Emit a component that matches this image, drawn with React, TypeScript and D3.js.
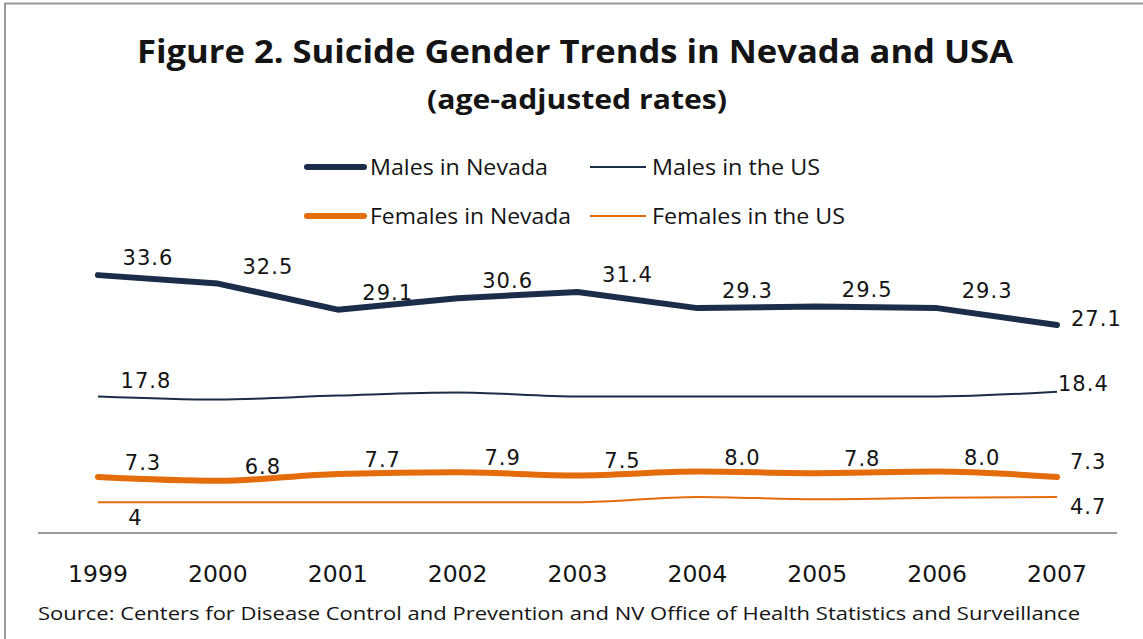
import React from "react";
import * as d3 from "d3";

const years = ["1999", "2000", "2001", "2002", "2003", "2004", "2005", "2006", "2007"];
const malesNevada = [33.6, 32.5, 29.1, 30.6, 31.4, 29.3, 29.5, 29.3, 27.1];
const malesUS = [17.8, 17.4, 17.9, 18.3, 17.8, 17.8, 17.8, 17.8, 18.4];
const femalesNevada = [7.3, 6.8, 7.7, 7.9, 7.5, 8.0, 7.8, 8.0, 7.3];
const femalesUS = [4.0, 4.0, 4.0, 4.0, 4.0, 4.7, 4.4, 4.6, 4.7];

const NAVY = "#1c2d4a";
const ORANGE = "#E46C0A";
const TEXT = "#141414";

const x = d3.scalePoint<string>().domain(years).range([98, 1057]);
const y = d3.scaleLinear().domain([0, 40]).range([533, 226]);

const makeLine = (curve: d3.CurveFactory) =>
  d3
    .line<number>()
    .x((_, i) => x(years[i]) as number)
    .y((v) => y(v))
    .curve(curve);

const straight = makeLine(d3.curveLinear);
const smooth = makeLine(d3.curveMonotoneX);

const fmt1 = d3.format(".1f");
const fmtPlain = d3.format("");

export default function App() {
  const labelFont = "'DejaVu Sans', Verdana, sans-serif";
  const calibriLike = "'Open Sans', 'Noto Sans', sans-serif";
  const last = years.length - 1;
  const lx = (i: number) => x(years[i]) as number;

  return (
    <svg
      width={1143}
      height={639}
      style={{ position: "absolute", left: 0, top: 0, background: "#fff" }}
    >
      <rect x={0} y={0} width={1143} height={639} fill="#fff" />
      <rect x={5} y={3.5} width={1300} height={800} fill="none" stroke="#9a9a9a" strokeWidth={2} />

      {/* Title */}
      <text
        x={575}
        y={63}
        textAnchor="middle"
        fontFamily={calibriLike}
        fontWeight="bold"
        fontSize={33}
        fill={TEXT}
        textLength={876}
        lengthAdjust="spacingAndGlyphs"
      >
        Figure 2. Suicide Gender Trends in Nevada and USA
      </text>
      <text
        x={577}
        y={109}
        textAnchor="middle"
        fontFamily={calibriLike}
        fontWeight="bold"
        fontSize={26}
        fill={TEXT}
        textLength={300}
        lengthAdjust="spacingAndGlyphs"
      >
        (age-adjusted rates)
      </text>

      {/* Legend */}
      <line x1={307} x2={364} y1={167} y2={167} stroke={NAVY} strokeWidth={6} strokeLinecap="round" />
      <text x={370} y={175} fontFamily={calibriLike} fontSize={21} fill={TEXT} textLength={178} lengthAdjust="spacingAndGlyphs">
        Males in Nevada
      </text>
      <line x1={590} x2={646} y1={167} y2={167} stroke={NAVY} strokeWidth={1.8} />
      <text x={652} y={175} fontFamily={calibriLike} fontSize={21} fill={TEXT} textLength={168} lengthAdjust="spacingAndGlyphs">
        Males in the US
      </text>
      <line x1={307} x2={364} y1={216} y2={216} stroke={ORANGE} strokeWidth={6} strokeLinecap="round" />
      <text x={370} y={224} fontFamily={calibriLike} fontSize={21} fill={TEXT} textLength={201} lengthAdjust="spacingAndGlyphs">
        Females in Nevada
      </text>
      <line x1={590} x2={646} y1={216} y2={216} stroke={ORANGE} strokeWidth={1.8} />
      <text x={652} y={224} fontFamily={calibriLike} fontSize={21} fill={TEXT} textLength={193} lengthAdjust="spacingAndGlyphs">
        Females in the US
      </text>

      {/* Axis line */}
      <line x1={38} x2={1117} y1={y(0)} y2={y(0)} stroke="#9a9a9a" strokeWidth={2} />

      {/* Lines */}
      <path d={smooth(femalesUS) || ""} fill="none" stroke={ORANGE} strokeWidth={2} />
      <path d={smooth(femalesNevada) || ""} fill="none" stroke={ORANGE} strokeWidth={6} strokeLinecap="round" />
      <path d={smooth(malesUS) || ""} fill="none" stroke={NAVY} strokeWidth={2} />
      <path d={straight(malesNevada) || ""} fill="none" stroke={NAVY} strokeWidth={6} strokeLinecap="round" strokeLinejoin="round" />

      {/* Data labels: Males Nevada */}
      {malesNevada.map((v, i) =>
        i < last ? (
          <text key={"mn" + i} x={lx(i) + 50} y={y(v) - 10} textAnchor="middle" fontFamily={labelFont} fontSize={21} letterSpacing={1} fill={TEXT}>
            {fmt1(v)}
          </text>
        ) : (
          <text key={"mn" + i} x={lx(i) + 14} y={y(v) + 1} fontFamily={labelFont} fontSize={21} letterSpacing={1} fill={TEXT}>
            {fmt1(v)}
          </text>
        )
      )}

      {/* Males US end labels */}
      <text x={lx(0) + 48} y={y(malesUS[0]) - 8} textAnchor="middle" fontFamily={labelFont} fontSize={21} letterSpacing={1} fill={TEXT}>
        {fmt1(malesUS[0])}
      </text>
      <text x={lx(last) + 1} y={y(malesUS[last]) - 1} fontFamily={labelFont} fontSize={21} letterSpacing={1} fill={TEXT}>
        {fmt1(malesUS[last])}
      </text>

      {/* Females Nevada labels */}
      {femalesNevada.map((v, i) =>
        i < last ? (
          <text key={"fn" + i} x={lx(i) + 45} y={y(v) - 7} textAnchor="middle" fontFamily={labelFont} fontSize={21} letterSpacing={1} fill={TEXT}>
            {fmt1(v)}
          </text>
        ) : (
          <text key={"fn" + i} x={lx(i) + 13} y={y(v) - 8} fontFamily={labelFont} fontSize={21} letterSpacing={1} fill={TEXT}>
            {fmt1(v)}
          </text>
        )
      )}

      {/* Females US end labels */}
      <text x={lx(0) + 37} y={y(femalesUS[0]) + 23} textAnchor="middle" fontFamily={labelFont} fontSize={21} fill={TEXT}>
        {fmtPlain(femalesUS[0])}
      </text>
      <text x={lx(last) + 13} y={y(femalesUS[last]) + 17} fontFamily={labelFont} fontSize={21} letterSpacing={1} fill={TEXT}>
        {fmt1(femalesUS[last])}
      </text>

      {/* X tick labels */}
      {years.map((yr) => (
        <text key={yr} x={x(yr) as number} y={582} textAnchor="middle" fontFamily={labelFont} fontSize={23.5} fill={TEXT}>
          {yr}
        </text>
      ))}

      {/* Source */}
      <text x={38} y={620} fontFamily={calibriLike} fontSize={18} fill={TEXT} textLength={1042} lengthAdjust="spacingAndGlyphs">
        Source: Centers for Disease Control and Prevention and NV Office of Health Statistics and Surveillance
      </text>
    </svg>
  );
}
